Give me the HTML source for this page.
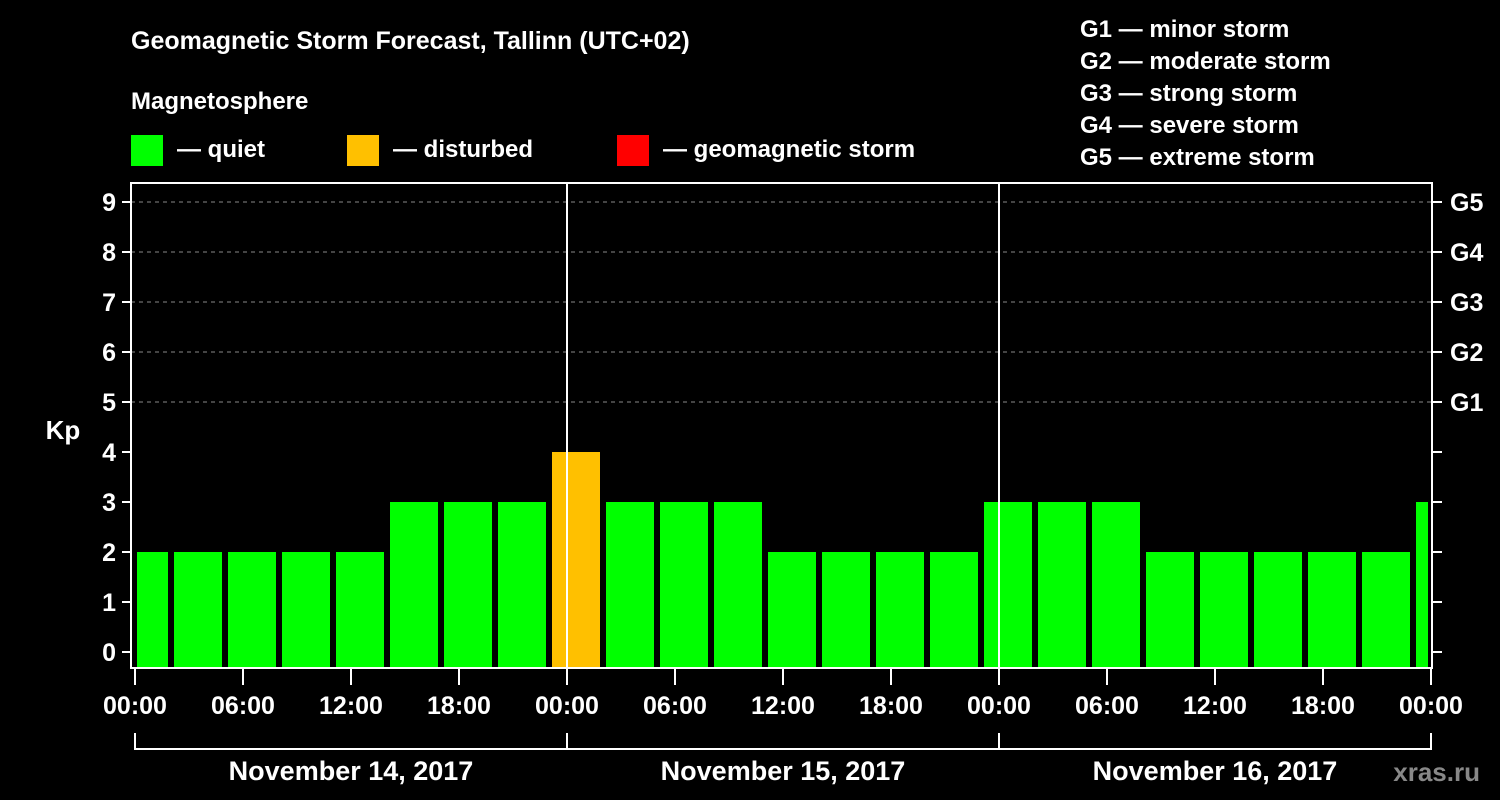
<!DOCTYPE html>
<html><head><meta charset="utf-8"><style>
html,body{margin:0;padding:0;background:#000;}
svg{display:block;font-family:"Liberation Sans",Arial,sans-serif;font-weight:bold;}
</style></head><body>
<svg id="chart" width="1500" height="800" viewBox="0 0 1500 800">
<rect width="1500" height="800" fill="#000"/>
<text x="131" y="49" fill="#fff" font-size="25">Geomagnetic Storm Forecast, Tallinn (UTC+02)</text>
<text x="131" y="109" fill="#fff" font-size="24">Magnetosphere</text>
<g>
<rect x="131" y="135" width="32" height="31" fill="#00ff00"/>
<text x="177" y="157" fill="#fff" font-size="24">— quiet</text>
<rect x="347" y="135" width="32" height="31" fill="#ffc000"/>
<text x="393" y="157" fill="#fff" font-size="24">— disturbed</text>
<rect x="617" y="135" width="32" height="31" fill="#ff0000"/>
<text x="663" y="157" fill="#fff" font-size="24">— geomagnetic storm</text>
</g>
<g fill="#fff" font-size="24">
<text x="1080" y="37">G1 — minor storm</text>
<text x="1080" y="69">G2 — moderate storm</text>
<text x="1080" y="101">G3 — strong storm</text>
<text x="1080" y="133">G4 — severe storm</text>
<text x="1080" y="165">G5 — extreme storm</text>
</g>
<text x="63" y="439" fill="#fff" font-size="26" text-anchor="middle">Kp</text>
<g id="grid"></g><g id="bars"></g><g id="axes"></g>
<text x="1480" y="781" fill="#888" font-size="26" text-anchor="end">xras.ru</text>
</svg>
<script>
const kpValues=[2,2,2,2,2,3,3,3,4,3,3,3,2,2,2,2,3,3,3,2,2,2,2,2,3];
const yTicks=[0,1,2,3,4,5,6,7,8,9];
const gLabels=["G1","G2","G3","G4","G5"];
const gLevels=[5,6,7,8,9];
const xTickLabels=["00:00","06:00","12:00","18:00","00:00","06:00","12:00","18:00","00:00","06:00","12:00","18:00","00:00"];
const dayLabels=["November 14, 2017","November 15, 2017","November 16, 2017"];
const firstSlotStartHour=-1; // local start of first 3h slot (UTC+02)
const NS="http://www.w3.org/2000/svg";
const L=131,R=1432,T=183,B=668;
const x0=135,pxPerHour=18;
const xs=h=>x0+h*pxPerHour;
const ys=k=>652-50*k;
function mk(tag,attrs,parent){const e=document.createElementNS(NS,tag);for(const k in attrs)e.setAttribute(k,attrs[k]);parent.appendChild(e);return e;}
const grid=document.getElementById('grid'),bars=document.getElementById('bars'),axes=document.getElementById('axes');
yTicks.forEach(k=>{
  if(k>=5){const l=mk('line',{x1:L,x2:R,y1:ys(k),y2:ys(k),stroke:'#888','stroke-width':1,'stroke-dasharray':'4,4'},grid);
  
  }
  const t=mk('line',{x1:122,x2:L,y1:ys(k),y2:ys(k),stroke:'#fff','stroke-width':2},axes);
  
  
  const t2=mk('line',{x1:R,x2:1442,y1:ys(k),y2:ys(k),stroke:'#fff','stroke-width':2},axes);
  
  
  const lb=mk('text',{x:116,y:ys(k)+9,fill:'#fff','font-size':25,'text-anchor':'end'},axes);
  lb.textContent=k;
  
  
});
gLabels.forEach((g,i)=>{
  const lb=mk('text',{x:1450,y:ys(gLevels[i])+9,fill:'#fff','font-size':25},axes);
  lb.textContent=g;
  
  
});
kpValues.forEach((v,i)=>{
  const h=firstSlotStartHour+3*i;
  let a=xs(h)+3,b=xs(h+3)-3;
  a=Math.max(a,137);b=Math.min(b,1428);
  const col=v>=5?'#ff0000':(v>=4?'#ffc000':'#00ff00');
  const r=mk('rect',{x:a,y:ys(v),width:b-a,height:B-ys(v),fill:col},bars);
  
  
});
[1,2].forEach(d=>{const l=mk('line',{x1:xs(24*d),x2:xs(24*d),y1:T,y2:B,stroke:'#fff','stroke-width':2},axes);
  
  });
const fr=mk('rect',{x:L,y:T,width:R-L,height:B-T,fill:'none',stroke:'#fff','stroke-width':2},axes);


xTickLabels.forEach((s,i)=>{
  const x=xs(6*i);
  const t=mk('line',{x1:x,x2:x,y1:B,y2:685,stroke:'#fff','stroke-width':2},axes);
  
  
  const lb=mk('text',{x:x,y:714,fill:'#fff','font-size':25,'text-anchor':'middle'},axes);
  lb.textContent=s;
  
  
});
const br=mk('line',{x1:xs(0),x2:xs(72),y1:749,y2:749,stroke:'#fff','stroke-width':2},axes);


[0,1,2,3].forEach(d=>{const l=mk('line',{x1:xs(24*d),x2:xs(24*d),y1:733,y2:750,stroke:'#fff','stroke-width':2},axes);
  
  });
dayLabels.forEach((s,i)=>{
  const lb=mk('text',{x:xs(24*i+12),y:780,fill:'#fff','font-size':27,'text-anchor':'middle'},axes);
  lb.textContent=s;
  
  
});
</script>
</body></html>
